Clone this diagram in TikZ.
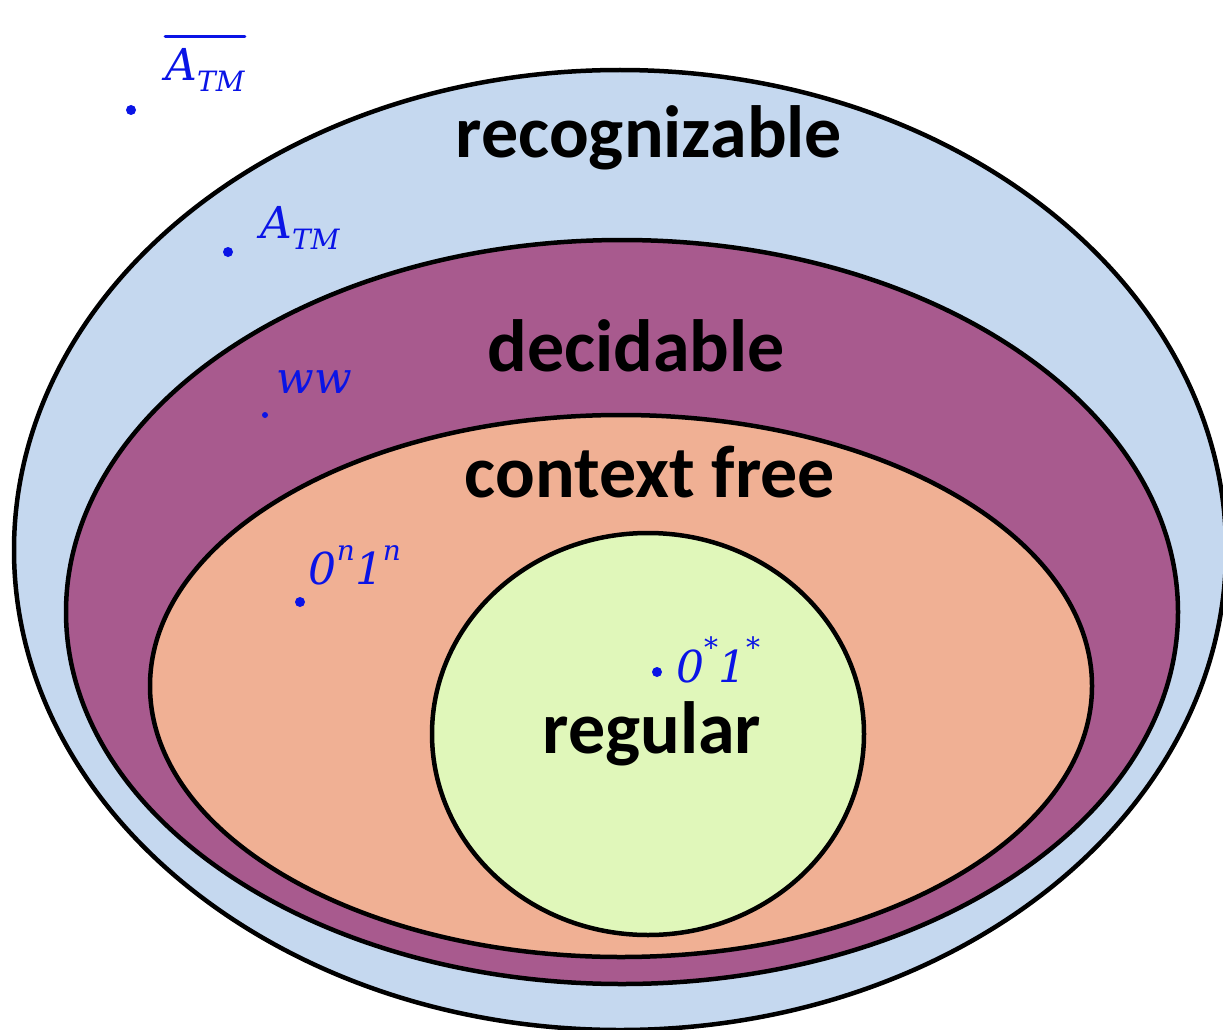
\documentclass[tikz,border=0pt]{standalone}
\usepackage{fontspec}
\setmainfont{Carlito}
\newfontfamily\handfont{DejaVu Serif}
\definecolor{recog}{HTML}{C5D8EF}
\definecolor{decid}{HTML}{A85A8E}
\definecolor{cfree}{HTML}{F0B094}
\definecolor{regc}{HTML}{E0F7BA}
\definecolor{ink}{HTML}{0A14E6}
\newcommand{\lo}[1]{\raisebox{-0.25em}{\fontsize{28}{30}\selectfont #1}}
\newcommand{\hi}[1]{\raisebox{0.55em}{\fontsize{28}{30}\selectfont #1}}
\begin{document}
\begin{tikzpicture}[x=1pt,y=-1pt,
  region/.style={draw=black,line width=4.5pt},
  lbl/.style={font=\fontsize{74}{76}\selectfont\bfseries,text=black,inner sep=0pt},
  hand/.style={text=ink,font=\fontsize{44}{46}\selectfont\handfont\itshape,inner sep=0pt},
  pt/.style={circle,fill=ink,inner sep=0pt,minimum size=10pt}]
\useasboundingbox (0,0) rectangle (1223,1030);
\begin{scope}
\clip (0,0) rectangle (1223,1030);
\filldraw[region,fill=recog] (620,550) ellipse [x radius=606, y radius=480];
\filldraw[region,fill=decid] (622,612) ellipse [x radius=556, y radius=372];
\filldraw[region,fill=cfree] (621,686) ellipse [x radius=471, y radius=271];
\filldraw[region,fill=regc] (648,734) ellipse [x radius=216, y radius=201];
\end{scope}
\node[lbl] (recognizable) at (649,138) {recognizable};
\node[lbl] (decidable) at (636,346) {decidable};
\node[lbl] (contextfree) at (650,472) {context free};
\node[lbl] (regular) at (652,734) {regular};
% handwritten annotations
\node[pt] (p1) at (131,110) {};
\node[hand] (atmbar) at (205,70) {A\lo{TM}};
\draw[ink,line width=3pt,line cap=round] ([yshift=12pt]atmbar.north west) -- ([yshift=12pt]atmbar.north east);
\node[pt] (p2) at (228,252) {};
\node[hand] (atm) at (300,228) {A\lo{TM}};
\node[pt,minimum size=6pt] (p3) at (265,415) {};
\node[hand] (ww) at (314,382) {ww};
\node[pt] (p4) at (300,602) {};
\node[hand] (zn) at (355,565) {0\hi{n}1\hi{n}};
\node[pt] (p5) at (657,672) {};
\node[hand] (zs) at (718,660) {0\hi{*}1\hi{*}};
\end{tikzpicture}
\end{document}
